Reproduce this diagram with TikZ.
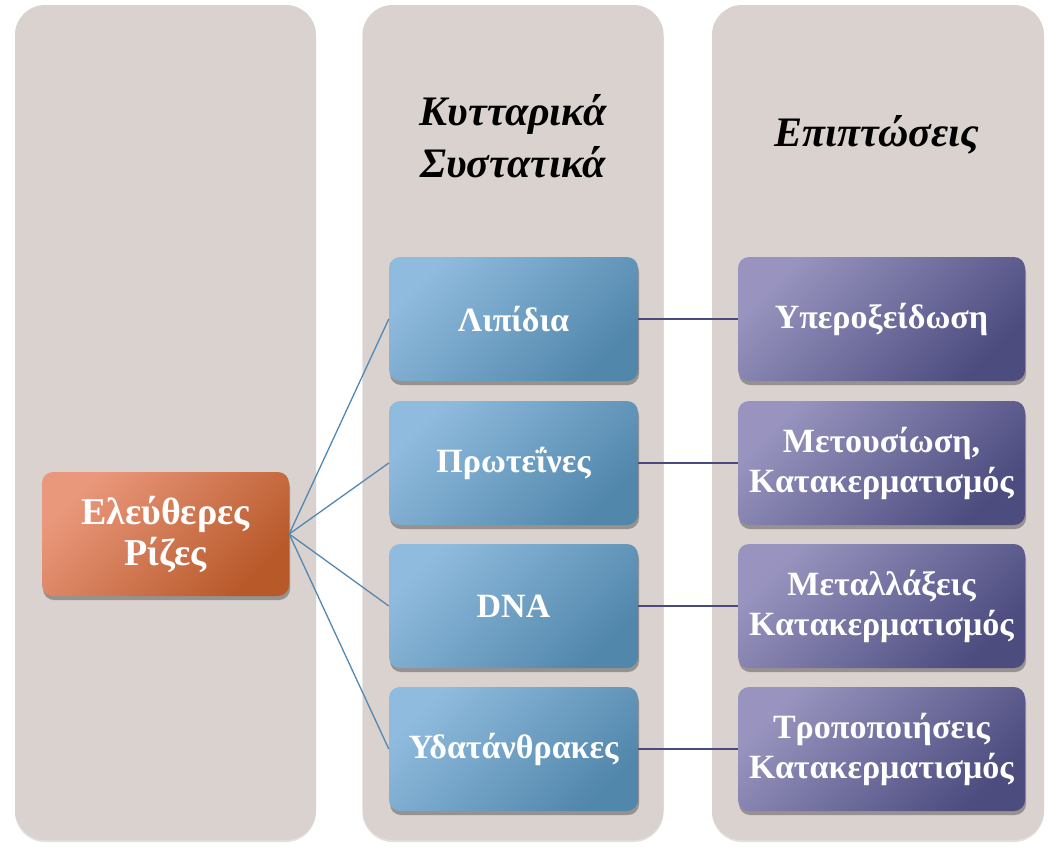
\documentclass[tikz,border=0pt]{standalone}
\usepackage{fontspec}
\setmainfont{Liberation Serif}
\usetikzlibrary{shadows}
\definecolor{colbg}{HTML}{D9D2CF}
\definecolor{orL}{HTML}{EA987C}
\definecolor{orD}{HTML}{B8592A}
\definecolor{blL}{HTML}{8FBBDE}
\definecolor{blD}{HTML}{5187AB}
\definecolor{puL}{HTML}{9894BF}
\definecolor{puD}{HTML}{4C4C7F}
\definecolor{fanc}{HTML}{5288B2}
\definecolor{linkc}{HTML}{4B4A80}
\begin{document}
\begin{tikzpicture}[x=1pt,y=-1pt,
  col/.style={fill=colbg, rounded corners=30pt, minimum width=301pt, minimum height=835pt, inner sep=0pt,
    drop shadow={shadow xshift=0pt, shadow yshift=-2pt, opacity=0.2, fill=black!60}},
  box/.style={rounded corners=11pt, minimum height=124pt, inner sep=1pt, align=center, text=white,
    font=\bfseries\fontsize{34}{40}\selectfont,
    drop shadow={shadow xshift=1pt, shadow yshift=-4pt, opacity=0.3, fill=black}},
  orbox/.style={box, minimum width=247pt, left color=orL, right color=orD, shading angle=45,
    font=\bfseries\fontsize{38}{41}\selectfont},
  blbox/.style={box, minimum width=249pt, left color=blL, right color=blD, shading angle=45},
  pubox/.style={box, minimum width=287pt, left color=puL, right color=puD, shading angle=45},
  head/.style={align=center, font=\bfseries\itshape\fontsize{42}{52}\selectfont},
  fan/.style={draw=fanc, line width=1.3pt},
  link/.style={draw=linkc, line width=1.3pt}]
\useasboundingbox (0,0) rectangle (1048,846);
\node[col] (c1) at (165.5,422.5) {};
\node[col] (c2) at (513,422.5) {};
\node[col, minimum width=332pt] (c3) at (878,422.5) {};
\node[head] (h2) at (513,136) {Κυτταρικά\\Συστατικά};
\node[head] (h3) at (877,135) {Επιπτώσεις};
\node[orbox] (er) at (165.5,534) {Ελεύθερες\\Ρίζες};
\node[blbox] (b1) at (513.5,319) {Λιπίδια};
\node[blbox] (b2) at (513.5,463) {Πρωτεΐνες};
\node[blbox] (b3) at (513.5,606) {DNA};
\node[blbox] (b4) at (513.5,749) {Υδατάνθρακες};
\node[pubox] (p1) at (881.5,319) {Υπεροξείδωση};
\node[pubox] (p2) at (881.5,463) {Μετουσίωση,\\Κατακερματισμός};
\node[pubox] (p3) at (881.5,606) {Μεταλλάξεις\\Κατακερματισμός};
\node[pubox] (p4) at (881.5,749) {Τροποποιήσεις\\Κατακερματισμός};
\foreach \b in {b1,b2,b3,b4} \draw[fan] (er.east) -- (\b.west);
\draw[link] (b1.east) -- (p1.west);
\draw[link] (b2.east) -- (p2.west);
\draw[link] (b3.east) -- (p3.west);
\draw[link] (b4.east) -- (p4.west);
\end{tikzpicture}
\end{document}
